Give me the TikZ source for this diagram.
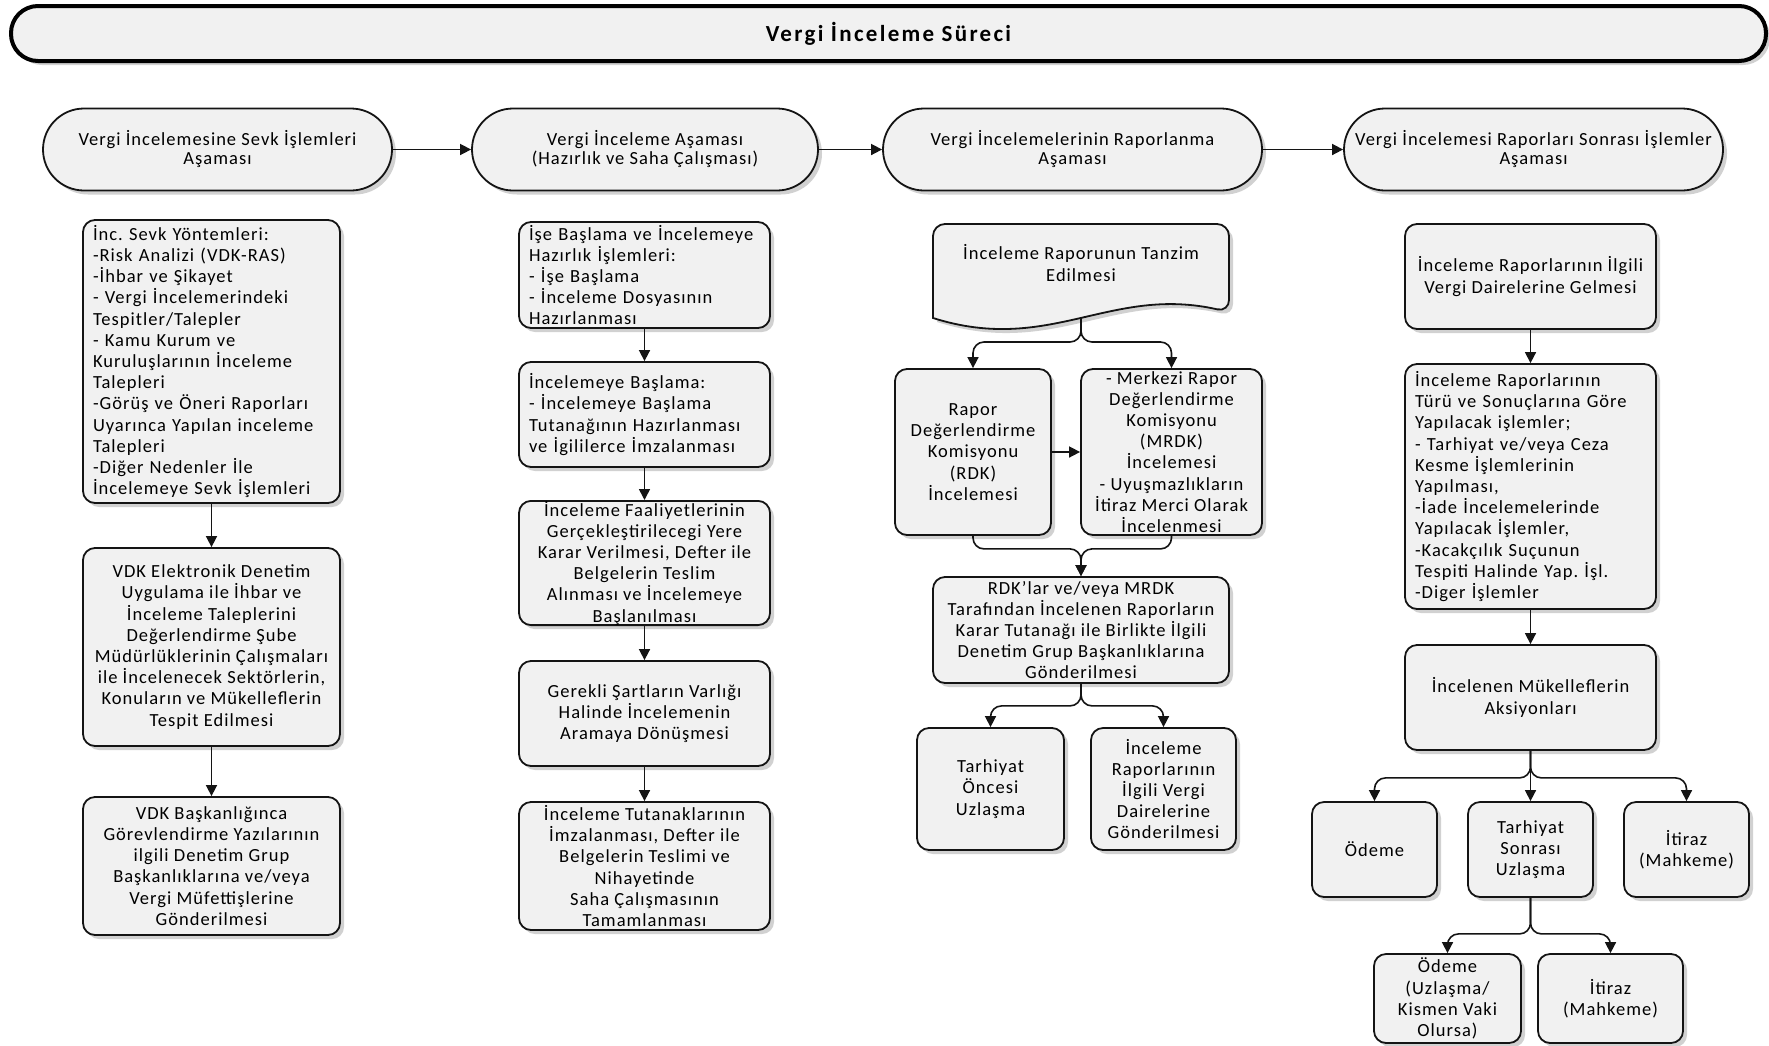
\documentclass[tikz,border=0pt]{standalone}
\usepackage{fontspec}
\setmainfont{Carlito}[LetterSpace=5.5]
\usetikzlibrary{arrows.meta,shadows}
\definecolor{boxfill}{RGB}{241,241,241}
\definecolor{edge}{RGB}{20,20,20}
\frenchspacing
\tikzset{
  shad/.style={drop shadow={shadow xshift=4pt, shadow yshift=-4pt, fill=black, opacity=0.18}},
  base/.style={draw=edge, line width=1.8pt, fill=boxfill, shad, inner sep=0pt,
    font=\fontsize{18.5}{21.2}\selectfont},
  box/.style={base, rectangle, rounded corners=12pt, align=center},
  lbox/.style={base, rectangle, rounded corners=12pt, align=left, inner xsep=10pt},
  phase/.style={base, rectangle, rounded corners=41pt, align=center, minimum height=82pt,
    font=\fontsize{18.5}{19}\selectfont},
  sz/.style 2 args={minimum width=#1, minimum height=#2},
  txt/.style={align=center, inner sep=0pt, font=\fontsize{18.5}{21.2}\selectfont},
  arr/.style={draw=edge, line width=1.6pt, -{Triangle[length=11pt,width=11pt]}},
  conn/.style={arr, rounded corners=11pt},
  ttl/.style={draw=black, line width=4pt, fill=boxfill, shad, rectangle, rounded corners=27pt,
    minimum width=1755pt, minimum height=55pt, inner sep=0pt,
    font=\fontsize{23}{26}\selectfont\bfseries\addfontfeatures{LetterSpace=10}}
}
\begin{document}
\begin{tikzpicture}[x=1pt,y=-1pt]
\useasboundingbox (0,0) rectangle (1769,1045);
\fill[white] (0,0) rectangle (1769,1045);

% title
\node[ttl] (title) at (888.5,33.5) {Vergi İnceleme Süreci};

% phases
\node[phase, minimum width=349pt] (p1) at (217.5,149.5) {Vergi İncelemesine Sevk İşlemleri\\Aşaması};
\node[phase, minimum width=346pt] (p2) at (645,149.5) {Vergi İnceleme Aşaması\\(Hazırlık ve Saha Çalışması)};
\node[phase, minimum width=379pt] (p3) at (1072.5,149.5) {Vergi İncelemelerinin Raporlanma\\Aşaması};
\node[phase, minimum width=379pt] (p4) at (1533.5,149.5) {Vergi İncelemesi Raporları Sonrası İşlemler\\Aşaması};
\draw[arr] (p1.east) -- (p2.west);
\draw[arr] (p2.east) -- (p3.west);
\draw[arr] (p3.east) -- (p4.west);

% column 1
\node[lbox, text width=237pt, sz={257pt}{283pt}] (a1) at (211.5,361.5) {İnc. Sevk Yöntemleri:\\-Risk Analizi (VDK-RAS)\\-İhbar ve Şikayet\\- Vergi İncelemerindeki\\Tespitler/Talepler\\- Kamu Kurum ve\\Kuruluşlarının  İnceleme\\Talepleri\\-Görüş ve Öneri Raporları\\Uyarınca Yapılan inceleme\\Talepleri\\-Diğer Nedenler İle\\İncelemeye Sevk İşlemleri};
\node[box, sz={257pt}{198pt}] (a2) at (211.5,647) {VDK Elektronik Denetim\\Uygulama ile İhbar ve\\İnceleme Taleplerini\\Değerlendirme Şube\\Müdürlüklerinin Çalışmaları\\ile İncelenecek Sektörlerin,\\Konuların ve Mükelleflerin\\Tespit Edilmesi};
\node[box, sz={257pt}{138pt}] (a3) at (211.5,866) {VDK Başkanlığınca\\Görevlendirme Yazılarının\\ilgili Denetim Grup\\Başkanlıklarına ve/veya\\Vergi Müfettişlerine\\Gönderilmesi};
\draw[arr] (a1.south) -- (a2.north);
\draw[arr] (a2.south) -- (a3.north);

% column 2
\node[lbox, text width=231pt, sz={251pt}{106pt}] (b1) at (644.5,275) {İşe Başlama ve İncelemeye\\Hazırlık İşlemleri:\\- İşe Başlama\\- İnceleme Dosyasının\\Hazırlanması};
\node[lbox, text width=231pt, sz={251pt}{105pt}] (b2) at (644.5,414.5) {İncelemeye Başlama:\\- İncelemeye Başlama\\Tutanağının Hazırlanması\\ve İgililerce İmzalanması};
\node[box, sz={251pt}{122pt}] (b3) at (644.5,563) {İnceleme Faaliyetlerinin\\Gerçekleştirilecegi Yere\\Karar Verilmesi, Defter ile\\Belgelerin  Teslim\\Alınması ve İncelemeye\\Başlanılması};
\node[box, sz={251pt}{105pt}] (b4) at (644.5,713.5) {Gerekli Şartların Varlığı\\Halinde İncelemenin\\Aramaya Dönüşmesi};
\node[box, sz={251pt}{128pt}] (b5) at (644.5,866) {İnceleme Tutanaklarının\\İmzalanması, Defter ile\\Belgelerin Teslimi ve\\Nihayetinde\\Saha Çalışmasının\\Tamamlanması};
\draw[arr] (b1.south) -- (b2.north);
\draw[arr] (b2.south) -- (b3.north);
\draw[arr] (b3.south) -- (b4.north);
\draw[arr] (b4.south) -- (b5.north);

% column 3
\path[draw=edge, line width=1.8pt, fill=boxfill, shad]
  (933,318) [rounded corners=12pt] -- (933,224) -- (1229,224) -- (1229,312) [sharp corners]
  .. controls (1110,285) and (1050,355) .. (933,318) -- cycle;
\node[txt] (c1) at (1081,263) {İnceleme Raporunun Tanzim\\Edilmesi};
\coordinate (c1b) at (1081,317);
\node[box, sz={156pt}{166pt}] (c2) at (973,452) {Rapor\\Değerlendirme\\Komisyonu\\(RDK)\\İncelemesi};
\node[box, sz={181pt}{166pt}] (c3) at (1171.5,452) {- Merkezi Rapor\\Değerlendirme\\Komisyonu\\(MRDK)\\İncelemesi\\- Uyuşmazlıkların\\İtiraz Merci Olarak\\İncelenmesi};
\node[box, sz={296pt}{106pt}] (c4) at (1081,630) {RDK’lar ve/veya MRDK\\Tarafından İncelenen Raporların\\Karar Tutanağı ile Birlikte İlgili\\Denetim Grup Başkanlıklarına\\Gönderilmesi};
\node[box, sz={147pt}{122pt}] (c5) at (990.5,789) {Tarhiyat\\Öncesi\\Uzlaşma};
\node[box, sz={145pt}{122pt}] (c6) at (1163.5,789) {İnceleme\\Raporlarının\\İlgili Vergi\\Dairelerine\\Gönderilmesi};
\draw[conn] (c1b) -- ++(0,25) -| (c2.north);
\draw[conn] (c1b) -- ++(0,25) -| (c3.north);
\draw[arr] (c2.east) -- (c3.west);
\draw[conn] (c2.south) -- ++(0,13) -| (c4.north);
\draw[conn] (c3.south) -- ++(0,13) -| (c4.north);
\draw[conn] (c4.south) -- ++(0,22) -| (c5.north);
\draw[conn] (c4.south) -- ++(0,22) -| (c6.north);

% column 4
\node[box, sz={251pt}{105pt}] (d1) at (1530.5,276.5) {İnceleme Raporlarının İlgili\\Vergi Dairelerine Gelmesi};
\node[lbox, text width=231pt, sz={251pt}{245pt}] (d2) at (1530.5,486.5) {İnceleme Raporlarının\\Türü ve Sonuçlarına  Göre\\Yapılacak işlemler;\\- Tarhiyat ve/veya Ceza\\Kesme İşlemlerinin\\Yapılması,\\-İade İncelemelerinde\\Yapılacak İşlemler,\\-Kacakçılık Suçunun\\Tespiti Halinde Yap. İşl.\\-Diger İşlemler};
\node[box, sz={251pt}{105pt}] (d3) at (1530.5,697.5) {İncelenen Mükelleflerin\\Aksiyonları};
\node[box, sz={125pt}{95pt}] (d4) at (1374.5,849.5) {Ödeme};
\node[box, sz={125pt}{95pt}] (d5) at (1530.5,849.5) {Tarhiyat\\Sonrası\\Uzlaşma};
\node[box, sz={125pt}{95pt}] (d6) at (1686.5,849.5) {İtiraz\\(Mahkeme)};
\node[box, sz={147pt}{89pt}] (d7) at (1447.5,998.5) {Ödeme\\(Uzlaşma/\\Kismen Vaki\\Olursa)};
\node[box, sz={145pt}{89pt}] (d8) at (1610.5,998.5) {İtiraz\\(Mahkeme)};
\draw[arr] (d1.south) -- (d2.north);
\draw[arr] (d2.south) -- (d3.north);
\draw[conn] (d3.south) -- ++(0,27) -| (d4.north);
\draw[arr] (d3.south) -- (d5.north);
\draw[conn] (d3.south) -- ++(0,27) -| (d6.north);
\draw[conn] (d5.south) -- ++(0,36) -| (d7.north);
\draw[conn] (d5.south) -- ++(0,36) -| (d8.north);
\end{tikzpicture}
\end{document}
